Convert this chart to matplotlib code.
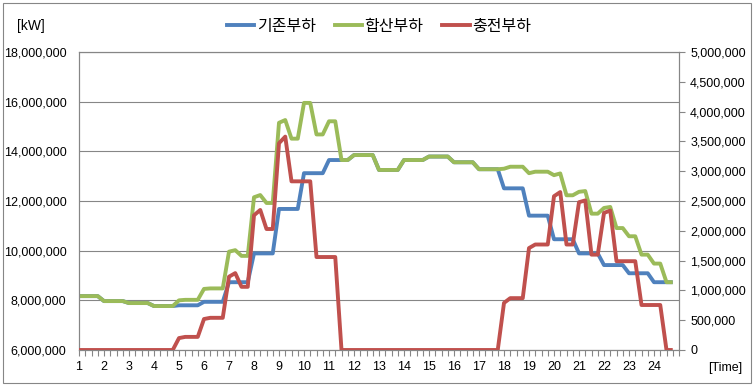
import numpy as np
import matplotlib
matplotlib.use("Agg")
import matplotlib.pyplot as plt
from matplotlib.patches import Rectangle
from matplotlib.ticker import FuncFormatter, MultipleLocator

plt.rcParams['font.family'] = ['Liberation Sans', 'Noto Sans CJK KR', 'DejaVu Sans']

# ---------------- data (values in million kW, quarter-hour steps) ----------------
hour_labels = list(range(1, 25))
series_names = ['기존부하', '합산부하', '충전부하']

base_load = [  # 기존부하 (left axis)
    8.17, 8.17, 8.17, 8.17,   7.97, 7.97, 7.97, 7.97,   7.89, 7.89, 7.89, 7.89,
    7.77, 7.77, 7.77, 7.77,   7.80, 7.80, 7.80, 7.80,   7.94, 7.94, 7.94, 7.94,
    8.73, 8.73, 8.73, 8.73,   9.89, 9.89, 9.89, 9.89,   11.68, 11.68, 11.68, 11.68,
    13.12, 13.12, 13.12, 13.12, 13.65, 13.65, 13.65, 13.65, 13.85, 13.85, 13.85, 13.85,
    13.25, 13.25, 13.25, 13.25, 13.65, 13.65, 13.65, 13.65, 13.79, 13.79, 13.79, 13.79,
    13.56, 13.56, 13.56, 13.56, 13.28, 13.28, 13.28, 13.28, 12.51, 12.51, 12.51, 12.51,
    11.41, 11.41, 11.41, 11.41, 10.46, 10.46, 10.46, 10.46, 9.89, 9.89, 9.89, 9.89,
    9.42, 9.42, 9.42, 9.42,   9.09, 9.09, 9.09, 9.09,   8.73, 8.73, 8.73, 8.73,
]

total_load = [  # 합산부하 (left axis)
    8.17, 8.17, 8.17, 8.17,   7.97, 7.97, 7.97, 7.97,   7.89, 7.89, 7.89, 7.89,
    7.77, 7.77, 7.77, 7.77,   8.00, 8.02, 8.02, 8.02,   8.46, 8.48, 8.48, 8.48,
    9.96, 10.02, 9.79, 9.79,  12.15, 12.24, 11.92, 11.92, 15.15, 15.26, 14.51, 14.51,
    15.95, 15.95, 14.68, 14.68, 15.21, 15.21, 13.65, 13.65, 13.85, 13.85, 13.85, 13.85,
    13.25, 13.25, 13.25, 13.25, 13.65, 13.65, 13.65, 13.65, 13.79, 13.79, 13.79, 13.79,
    13.56, 13.56, 13.56, 13.56, 13.28, 13.28, 13.28, 13.28, 13.30, 13.38, 13.38, 13.38,
    13.12, 13.18, 13.18, 13.18, 13.04, 13.11, 12.23, 12.23, 12.37, 12.40, 11.49, 11.49,
    11.72, 11.76, 10.91, 10.91, 10.58, 10.58, 9.84, 9.84,  9.48, 9.48, 8.73, 8.73,
]

charge_load = [  # 충전부하 (right axis)
    0, 0, 0, 0,   0, 0, 0, 0,   0, 0, 0, 0,   0, 0, 0, 0,
    0.20, 0.22, 0.22, 0.22,   0.52, 0.54, 0.54, 0.54,   1.23, 1.29, 1.06, 1.06,
    2.26, 2.35, 2.03, 2.03,   3.47, 3.58, 2.83, 2.83,   2.83, 2.83, 1.56, 1.56,
    1.56, 1.56, 0, 0,   0, 0, 0, 0,   0, 0, 0, 0,   0, 0, 0, 0,
    0, 0, 0, 0,   0, 0, 0, 0,   0, 0, 0, 0,
    0.79, 0.87, 0.87, 0.87,   1.71, 1.77, 1.77, 1.77,   2.58, 2.65, 1.77, 1.77,
    2.48, 2.51, 1.60, 1.60,   2.30, 2.34, 1.49, 1.49,   1.49, 1.49, 0.755, 0.755,
    0.755, 0.755, 0, 0,
]

scale = 1e6
base = np.array(base_load) * scale
total = np.array(total_load) * scale
charge = np.array(charge_load) * scale
x = 1 + np.arange(len(base)) / 4.0

# ---------------- styling ----------------
BLUE = '#4F81BD'
GREEN = '#9BBB59'
RED = '#C0504D'
GRAY = '#868686'
W, H = 755, 385

fig = plt.figure(figsize=(W / 100, H / 100), dpi=100)
ax = fig.add_axes([79 / W, 1 - 350 / H, 600 / W, 298 / H])
ax2 = ax.twinx()

lw = 2.8
ax.plot(x, base, color=BLUE, lw=lw, solid_joinstyle='round', solid_capstyle='butt', zorder=3)
ax.plot(x, total, color=GREEN, lw=lw, solid_joinstyle='round', solid_capstyle='butt', zorder=4)
ax2.plot(x, charge, color=RED, lw=lw, solid_joinstyle='round', solid_capstyle='butt', zorder=5)

ax.set_xlim(1, 25)
ax.set_ylim(6e6, 18e6)
ax2.set_ylim(0, 5e6)

ax.yaxis.set_major_locator(MultipleLocator(2e6))
ax2.yaxis.set_major_locator(MultipleLocator(5e5))
fmt = FuncFormatter(lambda v, p: f"{v:,.0f}")
ax.yaxis.set_major_formatter(fmt)
ax2.yaxis.set_major_formatter(fmt)

ax.set_xticks(hour_labels)
ax.set_xticklabels([str(h) for h in hour_labels])
ax.set_xticks(np.arange(1, 25.01, 0.25), minor=True)

ax.yaxis.grid(True, color=GRAY, lw=0.8)
ax.set_axisbelow(True)

for a in (ax, ax2):
    for s in a.spines.values():
        s.set_color(GRAY)
        s.set_linewidth(0.8)

ax.tick_params(axis='y', length=0, pad=9, labelsize=9, labelcolor='black')
ax2.tick_params(axis='y', length=4, width=0.8, color=GRAY, direction='out', pad=4,
                labelsize=9, labelcolor='black')
ax.tick_params(axis='x', which='both', length=4, width=0.8, color=GRAY, direction='out',
               pad=4, labelsize=9, labelcolor='black')

handles = [plt.Line2D([], [], color=c, lw=lw) for c in (BLUE, GREEN, RED)]
fig.legend(handles, series_names, loc='center', bbox_to_anchor=(0.502, 1 - 26 / H), ncol=3,
           frameon=False, fontsize=11.5, handlelength=1.7, handletextpad=0.15,
           columnspacing=1.2)

fig.text(17 / W, 1 - 26 / H, '[kW]', fontsize=10, va='center', ha='left')
fig.text(708 / W, 1 - 368 / H, '[Time]', fontsize=9, va='center', ha='left')

fig.patches.append(Rectangle((3 / W, 2 / H), 748 / W, 380 / H, transform=fig.transFigure,
                             fill=False, ec=GRAY, lw=0.8))

fig.savefig('out.png', dpi=100)
